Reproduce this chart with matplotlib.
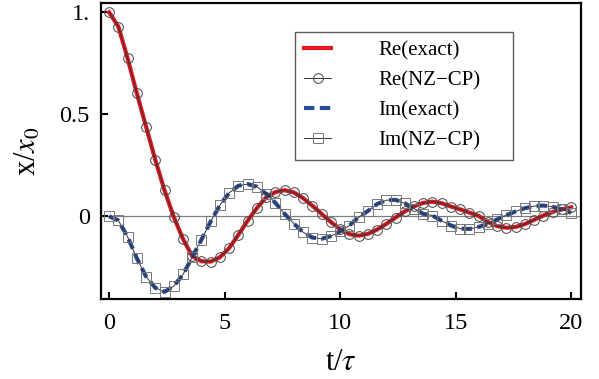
import numpy as np
import matplotlib.pyplot as plt

plt.rcParams['font.family'] = ['Liberation Serif', 'DejaVu Serif']
plt.rcParams['mathtext.fontset'] = 'stix'

# sample times (every 0.4 tau)
t = np.arange(51) * 0.4

re_vals = [1.000, 0.930, 0.775, 0.603, 0.440, 0.277, 0.127, -0.003, -0.111, -0.195,
           -0.220, -0.222, -0.200, -0.155, -0.090, -0.021, 0.041, 0.093, 0.119, 0.128,
           0.117, 0.089, 0.052, 0.012, -0.028, -0.063, -0.087, -0.095, -0.086, -0.065,
           -0.037, -0.006, 0.024, 0.049, 0.066, 0.072, 0.064, 0.048, 0.034, 0.018,
           0.002, -0.028, -0.048, -0.056, -0.052, -0.038, -0.017, 0.004, 0.021, 0.034,
           0.044]

im_vals = [0.000, -0.020, -0.100, -0.205, -0.295, -0.350, -0.370, -0.342, -0.285, -0.200,
           -0.114, -0.025, 0.055, 0.115, 0.150, 0.158, 0.145, 0.110, 0.066, 0.012,
           -0.036, -0.078, -0.104, -0.110, -0.097, -0.074, -0.045, -0.005, 0.026, 0.060,
           0.079, 0.081, 0.064, 0.038, 0.012, 0.004, -0.022, -0.045, -0.060, -0.062,
           -0.052, -0.036, -0.015, 0.006, 0.024, 0.040, 0.050, 0.053, 0.047, 0.034,
           0.017]

x_ticks = [0, 5, 10, 15, 20]
y_ticks = [0, 0.5, 1.0]
y_ticklabels = ['0', '0.5', '1.']

fig = plt.figure(figsize=(5.99, 3.79), dpi=100)
ax = fig.add_axes([0.1686, 0.2111, 0.8014, 0.7809])

ax.axhline(0, color='#808080', lw=0.9, zorder=1)

ax.plot(t, re_vals, color='#e8141c', lw=3, label='Re(exact)', zorder=2)
ax.plot(t, re_vals, color='#333333', lw=0.7, marker='o', ms=7, mfc='none',
        mec='#444444', mew=0.7, label='Re(NZ\u2212CP)', zorder=4)
ax.plot(t, im_vals, color='#2b4c9b', lw=3, ls=(0, (2.5, 1.3)), label='Im(exact)', zorder=3)
ax.plot(t, im_vals, color='#333333', lw=0.7, marker='s', ms=6.5, mfc='none',
        mec='#777777', mew=0.7, label='Im(NZ\u2212CP)', zorder=4)

ax.set_xlim(-0.35, 20.43)
ax.set_ylim(-0.405, 1.045)
ax.set_xticks(x_ticks)
ax.set_yticks(y_ticks)
ax.set_yticklabels(y_ticklabels)
ax.tick_params(direction='in', length=5, width=1.5, labelsize=17.5)
ax.tick_params(axis='x', pad=10)
ax.tick_params(axis='y', pad=8)
for s in ax.spines.values():
    s.set_linewidth(1.6)

ax.set_xlabel(r't/$\tau$', fontsize=22, labelpad=10)
ax.set_ylabel(r'x/$x_0$', fontsize=22, labelpad=12)

leg = ax.legend(loc='upper left', bbox_to_anchor=(0.404, 0.483, 0.454, 0.42),
                mode='expand', fontsize=15,
                frameon=True, fancybox=False, edgecolor='#333333',
                handlelength=1.3, handletextpad=2.25, labelspacing=0.5,
                borderpad=0.45, borderaxespad=0)
leg.get_frame().set_linewidth(1.0)

fig.savefig('out.png', dpi=100)
